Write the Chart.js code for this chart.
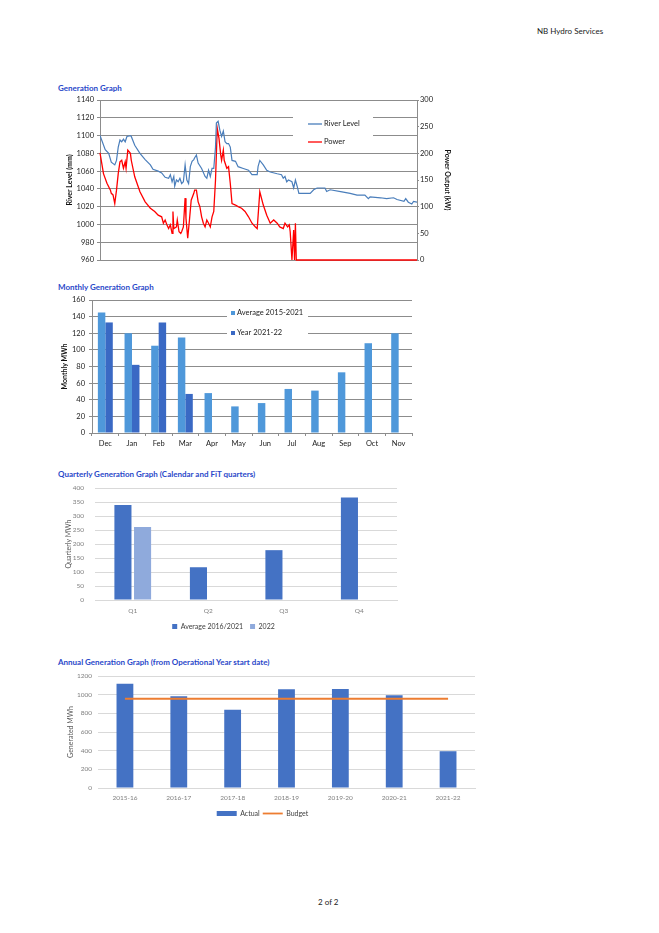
<!DOCTYPE html>
<html>
<head>
<meta charset="utf-8">
<title>NB Hydro Services - Generation</title>
<script src="https://cdn.jsdelivr.net/npm/chart.js@4.4.1/dist/chart.umd.min.js"></script>
<style>
    body { margin: 0; background: #fff; font-family: Lato, "Open Sans", sans-serif; }
    #page { position: relative; width: 659px; height: 933px; overflow: hidden; }
    .txt { position: absolute; white-space: nowrap; line-height: 1; }
    .head { font-size: 8px; color: #222; }
    .graph-title { font-size: 8px; font-weight: bold; color: #2a48c9; left: 58px; }
    canvas { position: absolute; left: 50px; }
</style>
</head>
<body>
<div id="page">
    <div class="txt head" style="left:537px; top:27px;">NB Hydro Services</div>

    <div class="txt graph-title" style="top:84px;">Generation Graph</div>
    <canvas id="generationChart" width="410" height="173" style="top:92px; width:410px; height:173px;"></canvas>

    <div class="txt graph-title" style="top:283px;">Monthly Generation Graph</div>
    <canvas id="monthlyChart" width="370" height="156" style="top:293px; width:370px; height:156px;"></canvas>

    <div class="txt graph-title" style="top:470px;">Quarterly Generation Graph (Calendar and FiT quarters)</div>
    <canvas id="quarterlyChart" width="360" height="160" style="top:480px; width:360px; height:160px;"></canvas>

    <div class="txt graph-title" style="top:658px;">Annual Generation Graph (from Operational Year start date)</div>
    <canvas id="annualChart" width="440" height="159" style="top:668px; width:440px; height:159px;"></canvas>

    <div class="txt head" style="left:318px; top:898px;">2 of 2</div>
</div>

<script>
// River level (mm) and power (kW)
var riverDays = [0, 6, 10, 13, 17, 19, 21, 23, 25, 27, 29, 31, 35, 36, 40, 46, 52, 58, 61, 67, 71, 75, 79, 81, 83, 85, 86, 88, 90, 92, 94, 96, 98, 100, 102, 104, 106, 108, 109, 111, 113, 117, 121, 123, 125, 127, 129, 131, 133, 134, 136, 138, 140, 142, 144, 146, 148, 150, 152, 156, 159, 165, 171, 175, 181, 182, 184, 188, 192, 196, 204, 209, 211, 213, 215, 217, 221, 223, 225, 227, 229, 234, 242, 246, 250, 259, 261, 265, 277, 288, 296, 305, 309, 311, 323, 330, 338, 342, 350, 352, 355, 359, 361, 365];
var riverLevel = [1100, 1084, 1080, 1070, 1067, 1072, 1087, 1095, 1093, 1096, 1093, 1099, 1100, 1099, 1089, 1080, 1073, 1067, 1062, 1060, 1058, 1053, 1052, 1056, 1048, 1054, 1043, 1050, 1048, 1052, 1046, 1048, 1067, 1050, 1046, 1065, 1071, 1073, 1075, 1078, 1069, 1063, 1054, 1052, 1061, 1054, 1063, 1063, 1087, 1114, 1116, 1106, 1099, 1105, 1093, 1091, 1091, 1087, 1072, 1071, 1065, 1063, 1061, 1056, 1056, 1065, 1072, 1067, 1061, 1059, 1057, 1056, 1052, 1054, 1048, 1050, 1048, 1041, 1050, 1043, 1035, 1035, 1035, 1039, 1041, 1041, 1037, 1039, 1037, 1035, 1033, 1033, 1029, 1031, 1030, 1029, 1030, 1028, 1026, 1029, 1025, 1023, 1026, 1025];
var powerDays = [0, 4, 8, 12, 13, 15, 17, 19, 21, 23, 25, 27, 29, 30, 32, 35, 36, 40, 46, 52, 58, 63, 67, 71, 73, 75, 77, 79, 81, 83, 84, 85, 88, 89, 91, 93, 94, 96, 98, 99, 101, 103, 105, 108, 109, 111, 113, 115, 117, 119, 121, 123, 125, 127, 129, 131, 133, 135, 137, 139, 140, 142, 143, 146, 148, 150, 152, 156, 159, 163, 167, 171, 175, 179, 181, 184, 188, 192, 196, 200, 204, 207, 211, 213, 216, 218, 219, 221, 223, 224, 225, 226, 365];
var powerKw = [201, 162, 144, 131, 125, 122, 106, 131, 162, 184, 187, 172, 184, 172, 206, 200, 187, 156, 128, 109, 97, 91, 84, 81, 69, 75, 66, 59, 66, 50, 91, 59, 62, 75, 53, 50, 53, 62, 116, 78, 41, 75, 112, 125, 131, 131, 109, 100, 81, 69, 62, 75, 69, 62, 81, 91, 150, 247, 228, 197, 187, 206, 187, 172, 175, 144, 106, 103, 100, 97, 91, 81, 69, 62, 59, 128, 103, 84, 69, 75, 69, 62, 59, 69, 62, 66, 53, 0, 56, 0, 69, 0, 0];

var months = ['Dec', 'Jan', 'Feb', 'Mar', 'Apr', 'May', 'Jun', 'Jul', 'Aug', 'Sep', 'Oct', 'Nov'];
var monthlyAverage = [145, 120, 105, 115, 48, 32, 36, 53, 51, 73, 108, 120];
var monthlyYear = [133, 82, 133, 47, null, null, null, null, null, null, null, null];

var quarters = ['Q1', 'Q2', 'Q3', 'Q4'];
var quarterlyAverage = [339, 117, 178, 366];
var quarterly2022 = [261, null, null, null];

var years = ['2015-16', '2016-17', '2017-18', '2018-19', '2019-20', '2020-21', '2021-22'];
var annualActual = [1117, 982, 838, 1057, 1061, 993, 394];
var annualBudget = [956, 956, 956, 956, 956, 956, 956];

var FONT = 'Lato, "Open Sans", sans-serif';
Chart.defaults.font.family = FONT;

function toPoints(xs, ys) {
    return xs.map(function (x, i) { return { x: x, y: ys[i] }; });
}

// fixed axis width, and no extra label padding above/below the plot
function fixWidth(w) {
    return function (s) {
        s.width = w;
        s.paddingTop = 0;
        s.paddingBottom = 0;
    };
}

// legend drawn inside the plot on a white patch, like the spreadsheet export
var boxLegend = {
    id: 'boxLegend',
    afterDraw: function (chart, args, opts) {
        if (!opts.items) return;
        var ctx = chart.ctx;
        ctx.save();
        ctx.fillStyle = '#fff';
        ctx.fillRect(opts.box[0], opts.box[1], opts.box[2], opts.box[3]);
        ctx.font = opts.fontSize + 'px ' + FONT;
        ctx.textBaseline = 'middle';
        opts.items.forEach(function (item) {
            if (item.kind === 'line') {
                ctx.strokeStyle = item.color;
                ctx.lineWidth = 1.3;
                ctx.beginPath();
                ctx.moveTo(item.x, item.y);
                ctx.lineTo(item.x + 14, item.y);
                ctx.stroke();
                ctx.fillStyle = '#222';
                ctx.fillText(item.text, item.x + 16, item.y);
            } else {
                ctx.fillStyle = item.color;
                ctx.fillRect(item.x, item.y - 2, 4, 4);
                ctx.fillStyle = '#222';
                ctx.fillText(item.text, item.x + 6, item.y);
            }
        });
        ctx.restore();
    }
};

// ---- Generation graph ----
new Chart(document.getElementById('generationChart'), {
    type: 'line',
    data: {
        datasets: [
            { label: 'River Level', data: toPoints(riverDays, riverLevel), borderColor: '#4a7ebb', borderWidth: 1.2, pointRadius: 0, yAxisID: 'y' },
            { label: 'Power', data: toPoints(powerDays, powerKw), borderColor: '#ff0000', borderWidth: 1.3, pointRadius: 0, yAxisID: 'y1', clip: false }
        ]
    },
    plugins: [boxLegend],
    options: {
        responsive: false,
        animation: false,
        layout: { padding: { top: 8, bottom: 5 } },
        plugins: {
            legend: { display: false },
            tooltip: { enabled: false },
            boxLegend: {
                box: [243, 11, 80, 47],
                fontSize: 7.5,
                items: [
                    { kind: 'line', text: 'River Level', color: '#4a7ebb', x: 258, y: 32 },
                    { kind: 'line', text: 'Power', color: '#ff0000', x: 258, y: 50 }
                ]
            }
        },
        scales: {
            x: { type: 'linear', min: 0, max: 365, display: false },
            y: {
                position: 'left', min: 960, max: 1140,
                ticks: { stepSize: 20, color: '#222', font: { size: 7.5 }, padding: 3, format: { useGrouping: false } },
                grid: { color: '#8c8c8c', tickLength: 3 },
                border: { color: '#8c8c8c' },
                title: { display: true, text: 'River Level (mm)', color: '#111', font: { size: 7, weight: 'bold' }, padding: { top: 16 } },
                afterFit: fixWidth(50)
            },
            y1: {
                position: 'right', min: 0, max: 300,
                ticks: { stepSize: 50, color: '#222', font: { size: 7.5 }, padding: 1 },
                grid: { drawOnChartArea: false, color: '#8c8c8c', tickLength: 2 },
                border: { color: '#8c8c8c' },
                title: { display: true, text: 'Power Output (kW)', color: '#111', font: { size: 7, weight: 'bold' }, padding: { top: 9 } },
                afterFit: fixWidth(43)
            }
        }
    }
});

// ---- Monthly generation graph ----
new Chart(document.getElementById('monthlyChart'), {
    type: 'bar',
    data: {
        labels: months,
        datasets: [
            { label: 'Average 2015-2021', data: monthlyAverage, backgroundColor: '#4f98da' },
            { label: 'Year 2021-22', data: monthlyYear, backgroundColor: '#3a69c4' }
        ]
    },
    plugins: [boxLegend],
    options: {
        responsive: false,
        animation: false,
        layout: { padding: { top: 7, right: 8 } },
        datasets: { bar: { categoryPercentage: 0.56, barPercentage: 1.0 } },
        plugins: {
            legend: { display: false },
            tooltip: { enabled: false },
            boxLegend: {
                box: [177, 12, 81, 35],
                fontSize: 7.5,
                items: [
                    { kind: 'square', text: 'Average 2015-2021', color: '#4f98da', x: 181, y: 20 },
                    { kind: 'square', text: 'Year 2021-22', color: '#3a69c4', x: 181, y: 40 }
                ]
            }
        },
        scales: {
            x: {
                ticks: { color: '#222', font: { size: 7.5 }, padding: 3 },
                grid: { drawOnChartArea: false, color: '#8c8c8c', tickLength: 3 },
                border: { color: '#8c8c8c' },
                afterFit: function (s) { s.height = 16; }
            },
            y: {
                min: 0, max: 160,
                ticks: { stepSize: 20, color: '#222', font: { size: 7.5 }, padding: 4 },
                grid: { color: '#8c8c8c', tickLength: 3 },
                border: { color: '#8c8c8c' },
                title: { display: true, text: 'Monthly MWh', color: '#111', font: { size: 7, weight: 'bold' }, padding: { top: 11 } },
                afterFit: fixWidth(42)
            }
        }
    }
});

// ---- Quarterly generation graph ----
new Chart(document.getElementById('quarterlyChart'), {
    type: 'bar',
    data: {
        labels: quarters,
        datasets: [
            { label: 'Average 2016/2021', data: quarterlyAverage, backgroundColor: '#4472c4' },
            { label: '2022', data: quarterly2022, backgroundColor: '#8faadc' }
        ]
    },
    options: {
        responsive: false,
        animation: false,
        layout: { padding: { top: 8, right: 13 } },
        datasets: { bar: { categoryPercentage: 0.52, barPercentage: 0.87 } },
        plugins: {
            tooltip: { enabled: false },
            legend: {
                position: 'bottom',
                labels: { boxWidth: 5, boxHeight: 5, padding: 7, color: '#404040', font: { size: 7 } }
            }
        },
        scales: {
            x: {
                ticks: { color: '#7f7f7f', font: { size: 6.5 }, padding: 7 },
                grid: { display: false, drawTicks: false },
                border: { color: '#d9d9d9' },
                afterFit: function (s) { s.height = 16; }
            },
            y: {
                min: 0, max: 400,
                ticks: { stepSize: 50, color: '#7f7f7f', font: { size: 6.5 }, padding: 11 },
                grid: { color: '#d9d9d9', drawTicks: false },
                border: { display: false },
                title: { display: true, text: 'Quarterly MWh', color: '#595959', font: { size: 7 }, padding: { top: 15 } },
                afterFit: fixWidth(45)
            }
        }
    }
});

// ---- Annual generation graph ----
new Chart(document.getElementById('annualChart'), {
    type: 'bar',
    data: {
        labels: years,
        datasets: [
            { label: 'Actual', data: annualActual, backgroundColor: '#4472c4', categoryPercentage: 0.8, barPercentage: 0.39, order: 1, pointStyle: 'rect' },
            { type: 'line', label: 'Budget', data: annualBudget, borderColor: '#ed7d31', backgroundColor: '#ed7d31', borderWidth: 1.8, pointRadius: 0, order: 0, pointStyle: 'line' }
        ]
    },
    options: {
        responsive: false,
        animation: false,
        layout: { padding: { top: 8, right: 15 } },
        plugins: {
            tooltip: { enabled: false },
            legend: {
                position: 'bottom',
                labels: {
                    usePointStyle: true, pointStyleWidth: 20, boxHeight: 5, padding: 3,
                    color: '#404040', font: { size: 7 },
                    sort: function (a, b) { return a.datasetIndex - b.datasetIndex; }
                }
            }
        },
        scales: {
            x: {
                ticks: { color: '#7f7f7f', font: { size: 6.5 }, padding: 6 },
                grid: { display: false, drawTicks: false },
                border: { color: '#d9d9d9' },
                afterFit: function (s) { s.height = 19; }
            },
            y: {
                min: 0, max: 1200,
                ticks: { stepSize: 200, color: '#7f7f7f', font: { size: 6.5 }, padding: 6, format: { useGrouping: false } },
                grid: { color: '#d9d9d9', drawTicks: false },
                border: { display: false },
                title: { display: true, text: 'Generated MWh', color: '#595959', font: { size: 7 }, padding: { top: 17 } },
                afterFit: fixWidth(48)
            }
        }
    }
});
</script>
</body>
</html>
